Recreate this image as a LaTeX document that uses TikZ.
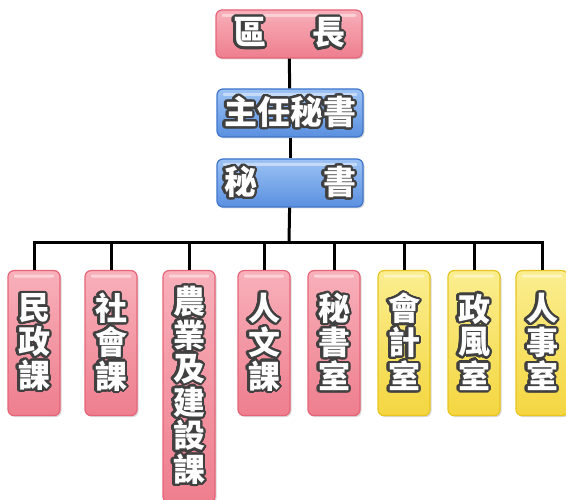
\documentclass[tikz,border=0pt]{standalone}
\usepackage{fontspec}
\newfontfamily\cjk{Noto Sans CJK TC}
\usepackage{contour}
\contourlength{2.2pt}
\contournumber{32}
\usetikzlibrary{shadows}

\definecolor{pinkT}{HTML}{F8B0BA}
\definecolor{pinkB}{HTML}{EE7E8E}
\definecolor{pinkD}{HTML}{E66478}
\definecolor{blueT}{HTML}{9CC2F4}
\definecolor{blueB}{HTML}{5A90E0}
\definecolor{blueD}{HTML}{3E74CC}
\definecolor{yelT}{HTML}{FBEE90}
\definecolor{yelB}{HTML}{F4D640}
\definecolor{yelD}{HTML}{E8C420}
\definecolor{olc}{HTML}{404040}

\newcommand\ol[1]{\contour{olc}{#1}}

\begin{document}
\begin{tikzpicture}[x=1pt,y=-1pt,
  every node/.style={text=white, inner sep=0pt},
  box/.style={rounded corners=6pt, line width=1.2pt,
    drop shadow={shadow xshift=1.5pt, shadow yshift=-1.5pt, opacity=0.3},
    path picture={\fill[white, opacity=0.45, rounded corners=1pt]
      ([xshift=6pt, yshift=-4pt]path picture bounding box.north west) rectangle
      ([xshift=-6pt, yshift=-7pt]path picture bounding box.north east);}},
  redbox/.style={box, draw=pinkD, top color=pinkT, bottom color=pinkB},
  bluebox/.style={box, draw=blueD, top color=blueT, bottom color=blueB},
  yelbox/.style={box, draw=yelD, top color=yelT, bottom color=yelB},
  head/.style={minimum width=146pt, minimum height=48pt,
    font=\cjk\bfseries\fontsize{33}{33}\selectfont},
  dept/.style={minimum width=52pt, minimum height=145pt, anchor=north,
    align=center, font=\cjk\bfseries\fontsize{32}{31}\selectfont},
  link/.style={line width=3pt, black}]
\useasboundingbox (0,0) rectangle (566,500);

\node[redbox, head]  (chief)    at (289, 34) {\ol{區}\hspace{46pt}\ol{長}};
\node[bluebox, head] (secchief) at (290,113) {\ol{主}\ol{任}\ol{秘}\ol{書}};
\node[bluebox, head] (sec)      at (290,183) {\ol{秘}\hspace{66pt}\ol{書}};

\node[redbox, dept] (d1) at ( 34,270) {\ol{民}\\\ol{政}\\\ol{課}};
\node[redbox, dept] (d2) at (111,270) {\ol{社}\\\ol{會}\\\ol{課}};
\node[redbox, dept, minimum height=232pt] (d3) at (189,270)
  {\ol{農}\\\ol{業}\\\ol{及}\\\ol{建}\\\ol{設}\\\ol{課}};
\node[redbox, dept] (d4) at (264,270) {\ol{人}\\\ol{文}\\\ol{課}};
\node[redbox, dept] (d5) at (334,270) {\ol{秘}\\\ol{書}\\\ol{室}};
\node[yelbox, dept] (d6) at (404,270) {\ol{會}\\\ol{計}\\\ol{室}};
\node[yelbox, dept] (d7) at (474,270) {\ol{政}\\\ol{風}\\\ol{室}};
\node[yelbox, dept] (d8) at (542,270) {\ol{人}\\\ol{事}\\\ol{室}};

\coordinate (bar) at (289,243);

\draw[link] (chief) -- (secchief);
\draw[link] (secchief) -- (sec);
\draw[link] (sec) -- (bar);
\foreach \i in {1,...,8}
  \draw[link] (d\i.north) |- (bar);
\end{tikzpicture}
\end{document}
